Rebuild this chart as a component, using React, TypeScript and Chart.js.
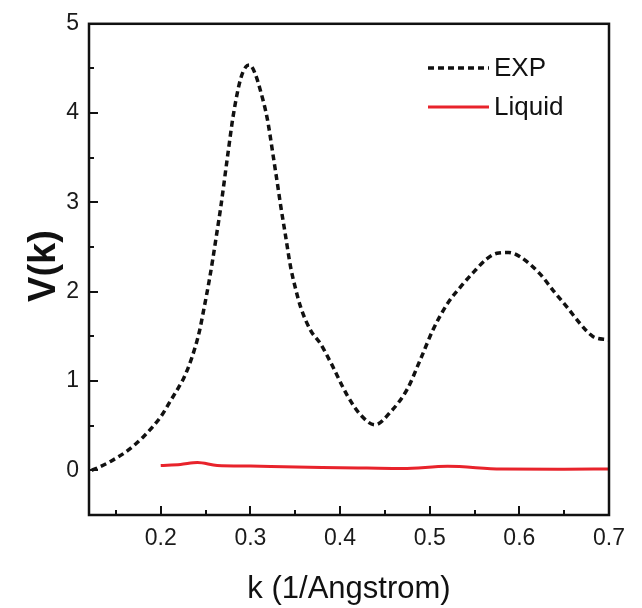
import { useEffect, useRef } from "react";
import { Chart, registerables } from "chart.js";

Chart.register(...registerables);

const FONT = '"Liberation Sans", Arial, Helvetica, sans-serif';

// Experimental V(k)
const expK = [
  0.123, 0.13, 0.144, 0.163, 0.181, 0.2, 0.211, 0.22, 0.226, 0.235, 0.243, 0.248,
  0.254, 0.258, 0.262, 0.267, 0.275, 0.281, 0.289, 0.295, 0.299, 0.305, 0.311, 0.319,
  0.325, 0.33, 0.334, 0.339, 0.345, 0.35, 0.356, 0.367, 0.378, 0.39, 0.408, 0.423,
  0.439, 0.456, 0.475, 0.49, 0.504, 0.52, 0.534, 0.549, 0.564, 0.575, 0.588, 0.601,
  0.623, 0.638, 0.653, 0.668, 0.682, 0.7,
];
const expV = [
  0.0, 0.03, 0.1, 0.22, 0.38, 0.6, 0.78, 0.93, 1.04, 1.27, 1.55, 1.8,
  2.12, 2.36, 2.62, 2.95, 3.55, 3.98, 4.38, 4.52, 4.54, 4.45, 4.26, 3.93,
  3.55, 3.22, 2.95, 2.64, 2.27, 2.05, 1.83, 1.57, 1.42, 1.2, 0.84, 0.62,
  0.51, 0.65, 0.91, 1.25, 1.58, 1.87, 2.05, 2.22, 2.37, 2.43, 2.44, 2.39,
  2.2, 2.01, 1.83, 1.64, 1.5, 1.46,
];

// Liquid model V(k)
const liqK = [0.2, 0.222, 0.241, 0.263, 0.3, 0.337, 0.38, 0.43, 0.47, 0.52, 0.58, 0.65, 0.7];
const liqV = [0.055, 0.066, 0.088, 0.055, 0.048, 0.04, 0.032, 0.025, 0.02, 0.045, 0.015, 0.012, 0.015];

const xTicks = [0.2, 0.3, 0.4, 0.5, 0.6, 0.7];
const yTicks = [0, 1, 2, 3, 4, 5];

const X_MIN = 0.12;
const X_MAX = 0.7;
const Y_MIN = -0.5;
const Y_MAX = 5;

const xTitle = "k (1/Angstrom)";
const yTitle = "V(k)";

const midpoints = (arr: number[], lo: number) => {
  const out: number[] = [];
  const step = arr[1] - arr[0];
  const first = arr[0] - step / 2;
  if (first > lo) out.push(first);
  for (let i = 0; i < arr.length - 1; i++) out.push((arr[i] + arr[i + 1]) / 2);
  return out;
};

const framePlugin = {
  id: "frameTicks",
  afterDatasetsDraw(chart: any) {
    const { ctx, chartArea } = chart;
    const { left, right, top, bottom } = chartArea;
    const xs = chart.scales.x;
    const ys = chart.scales.y;
    ctx.save();
    ctx.strokeStyle = "#111";
    ctx.lineWidth = 2;
    ctx.lineCap = "butt";
    // inward major/minor ticks on bottom and left axes
    ctx.beginPath();
    for (const v of xTicks) {
      const px = Math.round(xs.getPixelForValue(v));
      ctx.moveTo(px, bottom);
      ctx.lineTo(px, bottom - 9);
    }
    for (const v of midpoints(xTicks, X_MIN)) {
      const px = Math.round(xs.getPixelForValue(v));
      ctx.moveTo(px, bottom);
      ctx.lineTo(px, bottom - 5);
    }
    for (const v of yTicks) {
      const py = Math.round(ys.getPixelForValue(v));
      ctx.moveTo(left, py);
      ctx.lineTo(left + 9, py);
    }
    for (const v of midpoints(yTicks, Y_MIN)) {
      const py = Math.round(ys.getPixelForValue(v));
      ctx.moveTo(left, py);
      ctx.lineTo(left + 5, py);
    }
    ctx.stroke();
    // frame
    ctx.lineWidth = 2.5;
    ctx.strokeRect(left, top, right - left, bottom - top);
    ctx.restore();
  },
  afterDraw(chart: any) {
    const { ctx, chartArea } = chart;
    const { left, right } = chartArea;
    ctx.save();
    ctx.fillStyle = "#111";
    // x axis title
    ctx.font = `31px ${FONT}`;
    ctx.textAlign = "center";
    ctx.textBaseline = "alphabetic";
    ctx.fillText(xTitle, (left + right) / 2, 598);
    // y axis title
    ctx.save();
    ctx.translate(55, 266);
    ctx.rotate(-Math.PI / 2);
    ctx.font = `bold 38px ${FONT}`;
    ctx.textAlign = "center";
    ctx.textBaseline = "alphabetic";
    ctx.fillText(yTitle, 0, 0);
    ctx.restore();
    // legend
    const rows = [68, 107];
    chart.data.datasets.forEach((ds: any, i: number) => {
      const y = rows[i];
      ctx.save();
      ctx.strokeStyle = ds.borderColor;
      ctx.lineWidth = ds.borderWidth;
      ctx.setLineDash(ds.borderDash || []);
      ctx.beginPath();
      ctx.moveTo(428, y);
      ctx.lineTo(489, y);
      ctx.stroke();
      ctx.restore();
      ctx.font = `26px ${FONT}`;
      ctx.textAlign = "left";
      ctx.textBaseline = "middle";
      ctx.fillText(ds.label, 494, y + 1);
    });
    ctx.restore();
  },
};

export default function App() {
  const canvasRef = useRef<HTMLCanvasElement | null>(null);

  useEffect(() => {
    const canvas = canvasRef.current;
    if (!canvas) return;
    const chart = new Chart(canvas, {
      type: "line",
      data: {
        datasets: [
          {
            label: "EXP",
            data: expK.map((k, i) => ({ x: k, y: expV[i] })),
            borderColor: "#111111",
            borderWidth: 3.5,
            borderDash: [6, 4],
            pointRadius: 0,
            fill: false,
            cubicInterpolationMode: "monotone",
          },
          {
            label: "Liquid",
            data: liqK.map((k, i) => ({ x: k, y: liqV[i] })),
            borderColor: "#e8232b",
            borderWidth: 3,
            pointRadius: 0,
            fill: false,
            cubicInterpolationMode: "monotone",
          },
        ],
      },
      options: {
        responsive: false,
        animation: false,
        devicePixelRatio: 1,
        layout: { padding: { left: 0, right: 33, top: 16, bottom: 0 } },
        plugins: {
          legend: { display: false },
          tooltip: { enabled: false },
        },
        scales: {
          x: {
            type: "linear",
            min: X_MIN,
            max: X_MAX,
            grid: { display: false, drawTicks: false },
            border: { display: false },
            afterBuildTicks: (scale: any) => {
              scale.ticks = xTicks.map((value) => ({ value }));
            },
            afterFit: (scale: any) => {
              scale.height = 93;
            },
            ticks: {
              autoSkip: false,
              maxRotation: 0,
              padding: 10,
              color: "#1a1a1a",
              font: { family: FONT, size: 23 },
              callback: (value: any) => Number(value).toFixed(1),
            },
          },
          y: {
            type: "linear",
            min: Y_MIN,
            max: Y_MAX,
            grid: { display: false, drawTicks: false },
            border: { display: false },
            afterBuildTicks: (scale: any) => {
              scale.ticks = yTicks.map((value) => ({ value }));
            },
            afterFit: (scale: any) => {
              scale.width = 89;
            },
            ticks: {
              autoSkip: false,
              padding: 10,
              color: "#1a1a1a",
              font: { family: FONT, size: 23 },
              callback: (value: any) => String(value),
            },
          },
        },
      },
      plugins: [framePlugin],
    });
    return () => chart.destroy();
  }, []);

  return (
    <div style={{ position: "absolute", left: 0, top: 0, width: 642, height: 608, background: "#fff" }}>
      <canvas ref={canvasRef} width={642} height={608} />
    </div>
  );
}
